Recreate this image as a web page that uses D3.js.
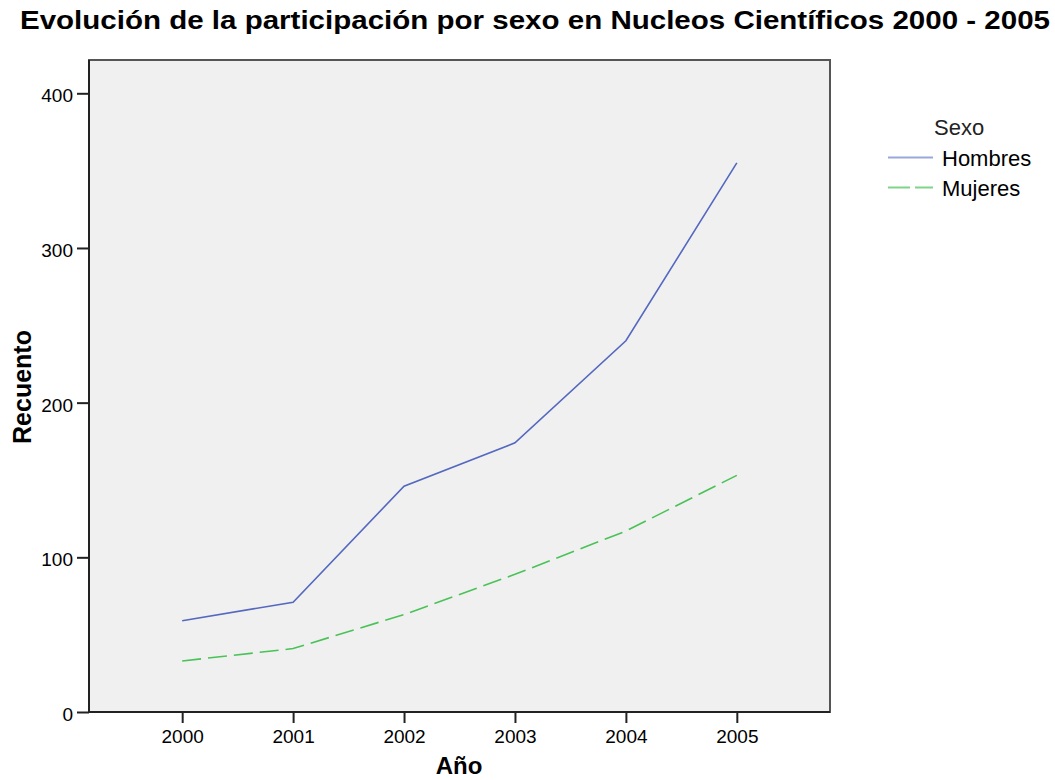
<!DOCTYPE html>
<meta charset="utf-8">
<style>
    body { margin: 0; background: #fff; }
    text { font-family: "Liberation Sans", Arial, sans-serif; fill: #000; }
    .axis path, .axis line { stroke: #222; stroke-width: 2px; }
</style>
<svg width="1055" height="780"></svg>
<script src="https://d3js.org/d3.v7.min.js"></script>
<script>

    var years = ["2000", "2001", "2002", "2003", "2004", "2005"],
        hombres = [59, 71, 146, 174, 240, 355],
        mujeres = [33, 41, 63, 89, 117, 153],
        yTicks = [0, 100, 200, 300, 400];

    var series = [
        { name: "Hombres", values: hombres, color: "#5468c0", legend: "#99a8dc", dash: null },
        { name: "Mujeres", values: mujeres, color: "#49c257", legend: "#7ed488", dash: "19,7" }
    ];

    var svg = d3.select("svg"),
        plotLeft = 89, plotRight = 830, plotTop = 60, plotBottom = 712;

    var x = d3.scalePoint().domain(years).range([plotLeft, plotRight]).padding(0.84);
    var y = d3.scaleLinear().domain([0, 400]).range([plotBottom, 93.3]);

    // plot background and frame
    svg.append("rect")
        .attr("x", plotLeft).attr("y", plotTop)
        .attr("width", plotRight - plotLeft).attr("height", plotBottom - plotTop)
        .attr("fill", "#f0f0f0")
        .attr("stroke", "#555").attr("stroke-width", 2);

    var line = d3.line()
        .x(function (d, i) { return x(years[i]); })
        .y(function (d) { return y(d); });

    svg.append("g").selectAll("path")
        .data(series)
        .enter().append("path")
        .attr("d", function (d) { return line(d.values); })
        .attr("fill", "none")
        .attr("stroke", function (d) { return d.color; })
        .attr("stroke-width", 1.6)
        .attr("stroke-dasharray", function (d) { return d.dash; });

    // axes
    svg.append("g").attr("class", "axis")
        .attr("transform", "translate(" + plotLeft + ",0)")
        .call(d3.axisLeft(y).tickValues(yTicks).tickSize(12).tickPadding(4).tickSizeOuter(0))
        .call(function (g) {
            g.select(".domain").attr("d", "M0," + plotTop + "V" + plotBottom);
            g.selectAll(".tick text").attr("font-size", 19).attr("font-family", null).attr("dy", "0.45em");
        });

    svg.append("g").attr("class", "axis")
        .attr("transform", "translate(0," + plotBottom + ")")
        .call(d3.axisBottom(x).tickSize(11).tickPadding(7).tickSizeOuter(0))
        .call(function (g) {
            g.select(".domain").attr("d", "M" + plotLeft + ",0H" + plotRight);
            g.selectAll(".tick text").attr("font-size", 19).attr("font-family", null);
        });

    // titles
    svg.append("text")
        .attr("x", 535).attr("y", 29)
        .attr("text-anchor", "middle")
        .attr("textLength", 1030).attr("lengthAdjust", "spacingAndGlyphs")
        .style("font-size", "26px").style("font-weight", "bold")
        .text("Evolución de la participación por sexo en Nucleos Científicos 2000 - 2005");

    svg.append("text")
        .attr("transform", "translate(31,387) rotate(-90)")
        .attr("text-anchor", "middle")
        .style("font-size", "25px").style("font-weight", "bold")
        .text("Recuento");

    svg.append("text")
        .attr("x", 459).attr("y", 774)
        .attr("text-anchor", "middle")
        .style("font-size", "24px").style("font-weight", "bold")
        .text("Año");

    // legend
    var legend = svg.append("g");
    legend.append("text")
        .attr("x", 934).attr("y", 135)
        .style("font-size", "22px").style("fill", "#222")
        .text("Sexo");

    var item = legend.selectAll(".item")
        .data(series)
        .enter().append("g")
        .attr("transform", function (d, i) { return "translate(0," + (157.5 + i * 30) + ")"; });

    item.append("line")
        .attr("x1", 888).attr("x2", 933)
        .attr("stroke", function (d) { return d.legend; })
        .attr("stroke-width", 2)
        .attr("stroke-dasharray", function (d) { return d.dash ? "22,5" : null; });

    item.append("text")
        .attr("x", 942).attr("y", 8)
        .style("font-size", "22px")
        .text(function (d) { return d.name; });

</script>
